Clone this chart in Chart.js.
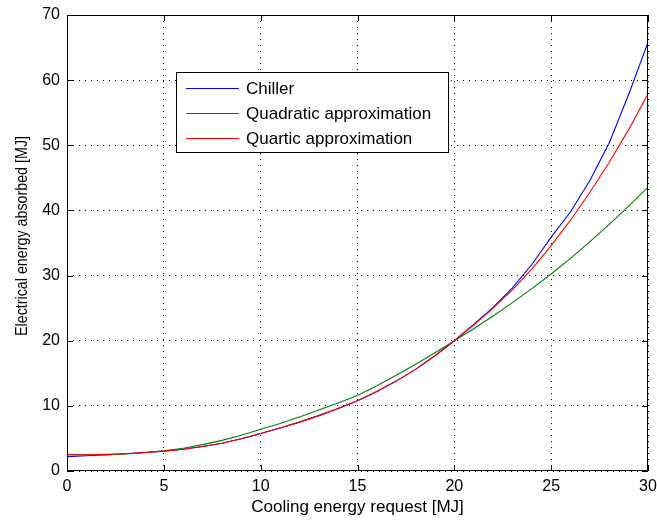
<!DOCTYPE html>
<html>
<head>
<meta charset="utf-8">
<script src="https://cdn.jsdelivr.net/npm/chart.js@4/dist/chart.umd.min.js"></script>
<style>
  html, body { margin: 0; padding: 0; background: #ffffff; }
  #wrap { width: 657px; height: 526px; }
</style>
</head>
<body>
<div id="wrap"><canvas id="c" width="657" height="526"></canvas></div>
<script>
// ---- data ----
const coolingRequest = [0,1,2,3,4,5,6,7,8,9,10,11,12,13,14,15,16,17,18,19,20,21,22,23,24,25,26,27,28,29,30];
const chiller = [2.2,2.35,2.5,2.65,2.85,3.05,3.35,3.75,4.25,4.95,5.75,6.6,7.5,8.5,9.6,10.8,12.2,13.8,15.6,17.7,20.0,22.5,25.1,28.1,31.7,35.9,39.8,44.6,50.4,57.8,65.8];
const quadratic = [2.55,2.45,2.45,2.6,2.8,3.1,3.5,4.05,4.7,5.5,6.4,7.3,8.3,9.35,10.45,11.6,13.1,14.7,16.4,18.15,20.0,21.85,23.8,25.85,28.0,30.25,32.65,35.2,37.85,40.65,43.55];
const quartic = [2.5,2.5,2.55,2.65,2.85,3.05,3.35,3.75,4.25,4.95,5.75,6.6,7.5,8.5,9.6,10.8,12.2,13.8,15.6,17.7,20.0,22.4,25.0,27.8,31.0,34.6,38.5,42.8,47.4,52.4,57.9];
const seriesNames = ['Chiller', 'Quadratic approximation', 'Quartic approximation'];
const seriesColors = ['#0000ff', '#008000', '#ff0000'];
const xTitle = 'Cooling energy request [MJ]';
const yTitle = 'Electrical energy absorbed [MJ]';

const toPoints = (ys) => ys.map((y, i) => ({x: coolingRequest[i], y: y}));

const FONT = "'Liberation Sans', Arial, Helvetica, sans-serif";

const framePlugin = {
  id: 'frame',
  afterDatasetsDraw(chart) {
    const {ctx, chartArea: a, scales} = chart;
    ctx.save();
    ctx.strokeStyle = '#000';
    ctx.lineWidth = 1;
    ctx.setLineDash([]);
    ctx.beginPath();
    ctx.rect(Math.round(a.left) + 0.5, Math.round(a.top) + 0.5, Math.round(a.right - a.left) - 1, Math.round(a.bottom - a.top) - 1);
    ctx.stroke();
    const tl = 6;
    ctx.beginPath();
    scales.x.ticks.forEach(t => {
      const px = Math.round(scales.x.getPixelForValue(t.value)) + 0.5;
      ctx.moveTo(px, a.bottom); ctx.lineTo(px, a.bottom - tl);
      ctx.moveTo(px, a.top); ctx.lineTo(px, a.top + tl);
    });
    scales.y.ticks.forEach(t => {
      const py = Math.round(scales.y.getPixelForValue(t.value)) + 0.5;
      ctx.moveTo(a.left, py); ctx.lineTo(a.left + tl, py);
      ctx.moveTo(a.right, py); ctx.lineTo(a.right - tl, py);
    });
    ctx.stroke();
    ctx.restore();
  },
  afterDraw(chart) {
    const {ctx, chartArea: a} = chart;
    // y-axis title (slightly condensed along its length, as in the reference)
    ctx.save();
    ctx.translate(23, (a.top + a.bottom) / 2 - 7);
    ctx.rotate(-Math.PI / 2);
    ctx.font = '16px ' + FONT;
    ctx.textAlign = 'center';
    ctx.textBaseline = 'middle';
    const w = ctx.measureText(yTitle).width;
    ctx.scale(200 / w, 1);
    ctx.fillStyle = '#000';
    ctx.fillText(yTitle, 0, 0);
    ctx.restore();

    // legend box
    const bx = Math.round(a.left + 109), by = Math.round(a.top + 57);
    const bw = 272, bh = 80;
    ctx.save();
    ctx.setTransform(1, 0, 0, 1, 0, 0);
    ctx.fillStyle = '#fff';
    ctx.fillRect(bx, by, bw, bh);
    ctx.strokeStyle = '#000';
    ctx.lineWidth = 1;
    ctx.strokeRect(bx + 0.5, by + 0.5, bw, bh);
    ctx.font = '17px ' + FONT;
    ctx.textBaseline = 'middle';
    ctx.textAlign = 'left';
    chart.data.datasets.forEach((ds, i) => {
      const cy = by + 16 + i * 25;
      ctx.fillStyle = ds.borderColor;
      ctx.fillRect(bx + 10, cy, 53, 1);
      ctx.fillStyle = '#000';
      ctx.fillText(ds.label, bx + 70, cy + 1);
    });
    ctx.restore();
  }
};

new Chart(document.getElementById('c'), {
  type: 'line',
  data: {
    datasets: [
      {label: seriesNames[0], data: toPoints(chiller), borderColor: seriesColors[0], order: 2},
      {label: seriesNames[1], data: toPoints(quadratic), borderColor: seriesColors[1], order: 1},
      {label: seriesNames[2], data: toPoints(quartic), borderColor: seriesColors[2], order: 0}
    ]
  },
  options: {
    responsive: false,
    animation: false,
    devicePixelRatio: 1,
    layout: {padding: {top: 15, right: 9, left: 0, bottom: 0}},
    elements: {
      line: {borderWidth: 1.1, tension: 0, fill: false},
      point: {radius: 0, hoverRadius: 0}
    },
    plugins: {legend: {display: false}, tooltip: {enabled: false}},
    scales: {
      x: {
        type: 'linear', min: 0, max: 30,
        afterFit: (s) => { s.height = 55; s.paddingRight = 0; s.paddingLeft = 0; },
        ticks: {stepSize: 5, color: '#000', padding: 6, font: {family: FONT, size: 16}, maxRotation: 0},
        grid: {color: '#000', lineWidth: 1, drawTicks: false, tickLength: 0},
        border: {display: false, dash: [1, 5]},
        title: {display: true, text: xTitle, color: '#000', font: {family: FONT, size: 17}, padding: {top: 8, bottom: 8}}
      },
      y: {
        type: 'linear', min: 0, max: 70,
        afterFit: (s) => { s.width = 67; s.paddingTop = 0; s.paddingBottom = 0; },
        ticks: {stepSize: 10, color: '#000', padding: 7, font: {family: FONT, size: 16}},
        grid: {color: '#000', lineWidth: 1, drawTicks: false, tickLength: 0},
        border: {display: false, dash: [1, 5]},
        title: {display: false}
      }
    }
  },
  plugins: [framePlugin]
});
</script>
</body>
</html>
